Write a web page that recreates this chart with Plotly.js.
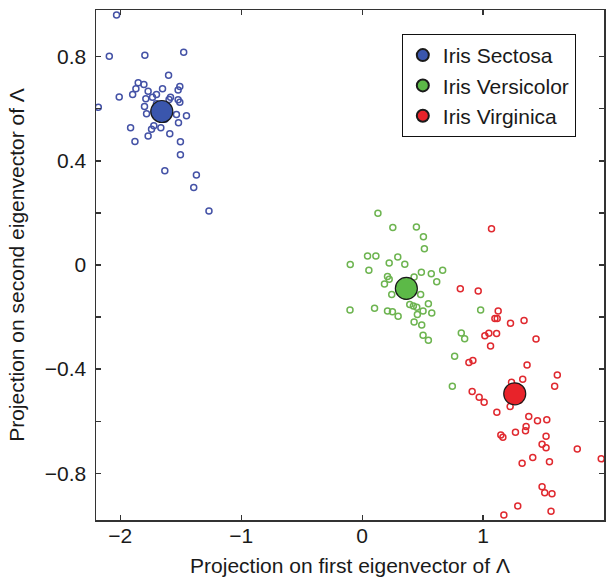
<!DOCTYPE html>
<html>
<head>
<meta charset="utf-8">
<script src="https://cdn.plot.ly/plotly-3.0.1.min.js"></script>
<style>html,body{margin:0;padding:0;background:#fff;}#chart{width:609px;height:578px;}</style>
</head>
<body>
<div id="chart"></div>
<script>
// Class names
const classNames = ['Iris Sectosa', 'Iris Versicolor', 'Iris Virginica'];

// Iris Setosa projections
const setosaX = [-2.03,-2.09,-1.796,-1.475,-1.60,-1.851,-1.804,-1.870,-1.897,-2.008,-1.769,-1.700,-1.650,-1.507,-1.521,-1.788,-1.733,-1.584,-1.596,-1.521,-1.507,-2.181,-1.799,-1.782,-1.535,-1.452,-1.518,-1.914,-1.722,-1.741,-1.664,-1.769,-1.590,-1.878,-1.502,-1.502,-1.631,-1.370,-1.392,-1.266,-1.70,-1.62,-1.68,-1.63,-1.72];
const setosaY = [0.961,0.802,0.806,0.818,0.729,0.700,0.694,0.677,0.655,0.646,0.668,0.655,0.677,0.686,0.673,0.639,0.645,0.645,0.636,0.635,0.625,0.606,0.609,0.581,0.578,0.574,0.547,0.527,0.535,0.522,0.527,0.496,0.504,0.475,0.474,0.424,0.362,0.346,0.298,0.208,0.62,0.61,0.57,0.56,0.59];

// Iris Versicolor projections
const versicolorX = [0.131,0.254,0.449,0.507,0.515,0.045,0.114,0.295,0.224,-0.098,0.056,0.353,0.490,0.572,0.666,0.617,0.210,0.224,0.185,0.430,0.245,0.484,-0.100,0.103,0.210,0.251,0.298,0.394,0.424,0.452,0.548,0.504,0.576,0.457,0.430,0.493,0.504,0.548,0.980,0.820,0.848,0.765,0.746,0.33,0.40,0.36];
const versicolorY = [0.199,0.144,0.146,0.109,0.062,0.035,0.035,0.031,0.008,0.002,-0.020,0.003,-0.028,-0.034,-0.020,-0.064,-0.044,-0.055,-0.073,-0.046,-0.113,-0.113,-0.173,-0.166,-0.177,-0.180,-0.197,-0.152,-0.158,-0.162,-0.149,-0.177,-0.184,-0.190,-0.219,-0.231,-0.270,-0.289,-0.173,-0.261,-0.283,-0.351,-0.466,-0.07,-0.10,-0.12];

// Iris Virginica projections
const virginicaX = [1.070,0.812,0.960,1.125,1.098,1.117,1.227,1.339,1.015,1.048,1.112,1.438,1.062,0.883,0.916,1.364,1.614,1.592,1.328,1.235,0.910,0.968,1.009,1.224,1.114,1.378,1.450,1.527,1.356,1.351,1.268,1.147,1.164,1.521,1.488,1.521,1.779,1.977,1.411,1.323,1.549,1.488,1.510,1.570,1.287,1.562,1.172,1.25,1.30];
const virginicaY = [0.139,-0.091,-0.100,-0.177,-0.206,-0.206,-0.224,-0.213,-0.272,-0.262,-0.263,-0.284,-0.311,-0.375,-0.367,-0.384,-0.423,-0.466,-0.439,-0.451,-0.486,-0.508,-0.527,-0.544,-0.566,-0.582,-0.599,-0.595,-0.621,-0.637,-0.643,-0.653,-0.662,-0.658,-0.689,-0.702,-0.707,-0.745,-0.740,-0.762,-0.756,-0.852,-0.875,-0.879,-0.926,-0.946,-0.961,-0.47,-0.52];

// Class centroids
const centroidX = [-1.656, 0.366, 1.262];
const centroidY = [0.590, -0.090, -0.495];

// Tick values / labels
const xTickVals = [-2, -1, 0, 1, 2];
const xTickText = ['\u22122', '\u22121', '0', '1', '2'];
const yTickVals = [-0.8, -0.6, -0.4, -0.2, 0, 0.2, 0.4, 0.6, 0.8];
const yTickText = ['\u22120.8', '', '\u22120.4', '', '0', '', '0.4', '', '0.8'];

const pointColors = ['#4452a6', '#6db450', '#e0292f'];
const centroidColors = ['#3a56ad', '#5cb947', '#e8232a'];

const FONT = '"Liberation Sans", Arial, Helvetica, sans-serif';

const groupsX = [setosaX, versicolorX, virginicaX];
const groupsY = [setosaY, versicolorY, virginicaY];

const traces = [];
for (let i = 0; i < 3; i++) {
  traces.push({
    type: 'scatter', mode: 'markers',
    x: groupsX[i], y: groupsY[i],
    showlegend: false, hoverinfo: 'skip',
    marker: { symbol: 'circle-open', size: 6, color: pointColors[i], line: { width: 1.5, color: pointColors[i] } }
  });
}
for (let i = 0; i < 3; i++) {
  traces.push({
    type: 'scatter', mode: 'markers',
    x: [centroidX[i]], y: [centroidY[i]],
    name: classNames[i],
    marker: { symbol: 'circle', size: 22, color: centroidColors[i], line: { width: 1.2, color: '#1a1a1a' } }
  });
}

const axisCommon = {
  showgrid: false, zeroline: false,
  showline: true, linecolor: '#333', linewidth: 1.5,
  mirror: 'ticks', ticks: 'inside', ticklen: 5, tickwidth: 1.2, tickcolor: '#333',
  tickfont: { family: FONT, size: 21, color: '#1a1a1a' },
  tickmode: 'array'
};

const layout = {
  width: 609, height: 578,
  margin: { l: 96, r: 5, t: 10, b: 58 },
  paper_bgcolor: '#fff', plot_bgcolor: '#fff',
  font: { family: FONT, size: 21, color: '#1a1a1a' },
  xaxis: Object.assign({}, axisCommon, {
    range: [-2.2, 2], tickvals: xTickVals, ticktext: xTickText,
    ticklabelstandoff: -4,
    title: { text: 'Projection on first eigenvector of \u039B', font: { family: FONT, size: 21, color: '#1a1a1a' }, standoff: 12 }
  }),
  yaxis: Object.assign({}, axisCommon, {
    range: [-0.98, 0.98], tickvals: yTickVals, ticktext: yTickText,
    ticklabelstandoff: 4,
    title: { text: 'Projection on second eigenvector of \u039B', font: { family: FONT, size: 21, color: '#1a1a1a' }, standoff: 14 }
  }),
  legend: {
    x: 0.602, y: 0.953, xanchor: 'left', yanchor: 'top',
    bgcolor: '#fff', bordercolor: '#111', borderwidth: 1,
    itemsizing: 'constant',
    font: { family: FONT, size: 21, color: '#1a1a1a' }
  },
  showlegend: true
};

Plotly.newPlot('chart', traces, layout, { staticPlot: true, displayModeBar: false });
</script>
</body>
</html>
